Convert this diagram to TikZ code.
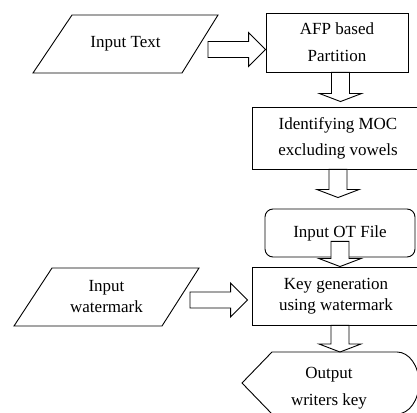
\documentclass[tikz,border=0pt]{standalone}
\usepackage{fontspec}
\setmainfont{Liberation Serif}
\usepackage{tikz}
\usetikzlibrary{calc}

\tikzset{
  txt/.style={align=center, font=\fontsize{17}{21}\selectfont, inner sep=0pt},
  outline/.style={draw, line width=0.9pt},
  procbox/.style={txt, outline, rectangle},
  fatarrow/.style={draw, fill=white, line width=0.9pt, line join=miter},
  fatdown/.style={to path={
    let \p1=(\tikztostart), \p2=(\tikztotarget) in
    (\x1-9pt,\y1) -- (\x1-9pt,\y2+8pt) -- (\x1-21pt,\y2+8pt) -- (\x1,\y2)
    -- (\x1+21pt,\y2+8pt) -- (\x1+9pt,\y2+8pt) -- (\x1+9pt,\y1) -- cycle}},
  fatright/.style={to path={
    let \p1=(\tikztostart), \p2=(\tikztotarget) in
    (\x1,\y1+8pt) -- (\x2-17pt,\y1+8pt) -- (\x2-17pt,\y1+17pt) -- (\x2,\y1)
    -- (\x2-17pt,\y1-17pt) -- (\x2-17pt,\y1-8pt) -- (\x1,\y1-8pt) -- cycle}}
}

\begin{document}
\begin{tikzpicture}[x=1pt, y=1pt]
    \path[use as bounding box] (0,0) rectangle (417,412);
    \clip (0,0) rectangle (417,412);

    % inputs (parallelograms)
    \node[txt] (intext) at (125.5,368) {Input Text};
    \draw[outline] ($(intext)+(-92.5,-29)$) -- ($(intext)+(-53.5,29)$)
        -- ($(intext)+(92.5,29)$) -- ($(intext)+(56.5,-29)$) -- cycle;
    \node[txt] (inwm) at (106.5,115) {Input\\watermark};
    \draw[outline] ($(inwm)+(-92.5,-29)$) -- ($(inwm)+(-54.5,29)$)
        -- ($(inwm)+(92.5,29)$) -- ($(inwm)+(55.5,-29)$) -- cycle;

    % process boxes
    \node[procbox, minimum width=142pt, minimum height=59pt] (afp) at (337,369.5) {AFP based\\[6pt]Partition};
    \node[procbox, minimum width=172pt, minimum height=62pt] (moc) at (338,274) {Identifying MOC\\[5pt]excluding vowels};
    \node[procbox, rounded corners=8pt, minimum width=150pt, minimum height=48pt] (ot) at (340,179) {Input OT File};
    \node[procbox, minimum width=168pt, minimum height=58pt] (keygen) at (336,116) {Key generation\\using watermark};

    % output (display symbol)
    \node[txt] (out) at (329,24) {Output\\[6pt]writers key};
    \draw[outline] ($(out)+(-87,5)$) -- ($(out)+(-57,36)$) -- ($(out)+(68,36)$)
        arc[start angle=90, end angle=-90, x radius=22, y radius=31]
        -- ($(out)+(-57,-26)$) -- cycle;

    % block arrows
    \path[fatarrow] ($(intext)+(82.5,-5.5)$) to[fatright] (afp.west);
    \path[fatarrow] ($(afp.south)+(3.5,0)$) to[fatdown] ($(moc.north)+(0,5)$);
    \path[fatarrow] (moc.south) to[fatdown] ($(ot.north)+(0,11)$);
    \path[fatarrow] ($(ot.south)+(0,16)$) to[fatdown] (keygen.north);
    \path[fatarrow] ($(inwm)+(83.5,-3)$) to[fatright] ($(keygen.west)+(-4,0)$);
    \path[fatarrow] ($(keygen.south)+(4,0)$) to[fatdown] ($(out)+(0,36)$);
\end{tikzpicture}
\end{document}
